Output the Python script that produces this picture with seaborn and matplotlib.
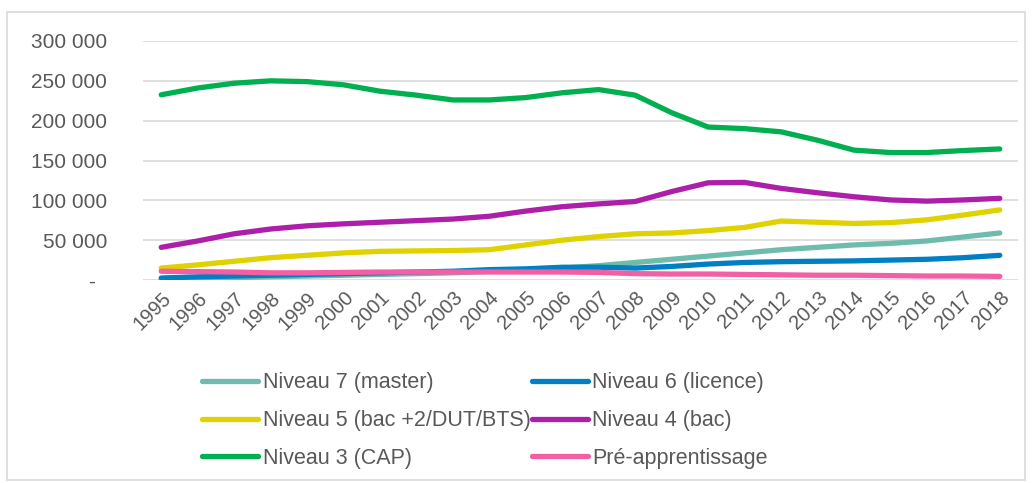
import numpy as np
import pandas as pd
import matplotlib
matplotlib.use("Agg")
import matplotlib.pyplot as plt
import seaborn as sns
from matplotlib.lines import Line2D
from matplotlib.patches import Rectangle
from matplotlib.ticker import FuncFormatter

years = list(range(1995, 2019))
niveau7 = [1000, 2000, 3000, 4000, 5000, 6000, 7000, 8000, 9000, 11000, 13000, 15000,
           18000, 22000, 26000, 30000, 34000, 38000, 41000, 44000, 46000, 49000, 54000, 59000]
niveau6 = [2500, 4000, 5000, 6000, 7000, 8000, 9000, 10000, 11000, 13000, 14000, 16000,
           16000, 15000, 17000, 20000, 22000, 23000, 23500, 24000, 25000, 26000, 28000, 31000]
niveau5 = [15000, 19000, 23500, 28000, 31000, 34000, 36000, 36500, 37000, 38000, 44000, 50000,
           54500, 58000, 59000, 62000, 66000, 74000, 72500, 71000, 72000, 75500, 81500, 88000]
niveau4 = [41000, 49000, 58000, 64000, 68000, 70500, 72500, 74500, 76500, 80000, 86500, 92000,
           95500, 98500, 111000, 122000, 122500, 115000, 109500, 104500, 100500, 99000, 100500, 102500]
niveau3 = [232500, 241000, 247000, 250000, 249000, 245000, 237000, 232000, 226000, 226000, 229000, 235000,
           239000, 232000, 210000, 192000, 190000, 186000, 175500, 163000, 160000, 160000, 162500, 164500]
preapp = [11000, 10500, 10000, 9000, 9000, 9500, 10000, 10000, 10000, 10000, 10000, 10000,
          9500, 8000, 7500, 7500, 7000, 6500, 6000, 6000, 5500, 5000, 5000, 4500]

labels = ["Niveau 7 (master)", "Niveau 6 (licence)", "Niveau 5 (bac +2/DUT/BTS)",
          "Niveau 4 (bac)", "Niveau 3 (CAP)", "Pré-apprentissage"]
colors = ["#6FBCAD", "#0080C3", "#E0D200", "#AD1FAA", "#00B050", "#F25FA4"]
series = [niveau7, niveau6, niveau5, niveau4, niveau3, preapp]

df = pd.concat([pd.DataFrame({"annee": years, "effectif": s, "niveau": lab})
                for s, lab in zip(series, labels)])

sns.set_style("white")
plt.rcParams["font.family"] = ["Liberation Sans", "DejaVu Sans"]

fig = plt.figure(figsize=(10.33, 4.83), dpi=100)
ax = fig.add_axes([143 / 1033, 1 - 280 / 483, 875 / 1033, 239 / 483])

# draw order: pink on top like the reference
draw_order = [4, 3, 2, 0, 1, 5]
for i in draw_order:
    sns.lineplot(data=df[df["niveau"] == labels[i]], x="annee", y="effectif",
                 color=colors[i], lw=3.8, solid_capstyle="round", ax=ax, legend=False)

ax.set_xlim(1994.5, 2018.5)
ax.set_ylim(0, 300000)
ax.set_yticks(np.arange(0, 300001, 50000))
ax.set_xticks(years)
ax.yaxis.set_major_formatter(FuncFormatter(
    lambda v, p: "-  " if v == 0 else f"{int(v):,}".replace(",", " ")))
ax.grid(axis="y", color="#D9D9D9", lw=1.2)
ax.set_axisbelow(True)
for s in ["top", "right", "left", "bottom"]:
    ax.spines[s].set_visible(False)
ax.tick_params(axis="y", length=0, pad=26, labelsize=15, labelcolor="#595959")
ax.tick_params(axis="x", length=0, pad=6, labelsize=14.5, labelcolor="#595959")
for t in ax.get_xticklabels():
    t.set_rotation(45)
    t.set_ha("right")
    t.set_rotation_mode("anchor")
ax.set_xlabel("")
ax.set_ylabel("")

order = [0, 2, 4, 1, 3, 5]
handles = [Line2D([0], [0], color=colors[i], lw=3.8, solid_capstyle="round") for i in order]
fig.legend(handles, [labels[i] for i in order], ncol=2, loc="upper left",
           bbox_to_anchor=(183 / 1033, 1 - 353 / 483), frameon=False,
           fontsize=15.5, labelcolor="#595959", handlelength=2.6, handletextpad=0.2,
           columnspacing=0.05, labelspacing=0.78)

fig.patches.append(Rectangle((7 / 1033, 3 / 483), 1018 / 1033, 468 / 483,
                             transform=fig.transFigure, fill=False,
                             edgecolor="#D9D9D9", lw=1.2))

fig.savefig("out.png", dpi=100)
